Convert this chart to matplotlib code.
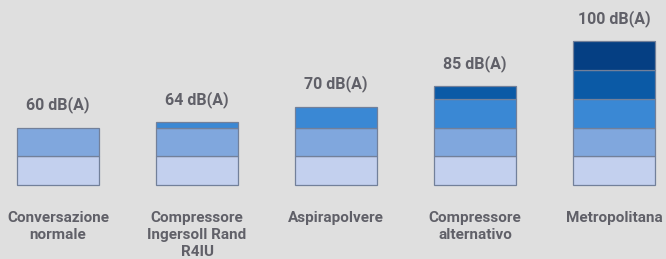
import matplotlib
matplotlib.use("Agg")
import matplotlib.pyplot as plt

fam = "Roboto"

# Data
categories = ["Conversazione\nnormale", "Compressore\nIngersoll Rand\nR4IU",
              "Aspirapolvere", "Compressore\nalternativo", "Metropolitana"]
db_labels = ["60 dB(A)", "64 dB(A)", "70 dB(A)", "85 dB(A)", "100 dB(A)"]
# stacked band heights per bar (in band units)
segments = [
    [1, 1],
    [1, 1, 0.18],
    [1, 1, 0.73],
    [1, 1, 1, 0.45],
    [1, 1, 1, 1, 1],
]
level_colors = ["#c3d0ee", "#80a7dd", "#3a88d4", "#0b5aa6", "#053f83"]

bg = "#dfdfdf"
txt = "#606068"

fig = plt.figure(figsize=(6.66, 2.59), dpi=100, facecolor=bg)
ax = fig.add_axes([0, 0, 1, 1], facecolor=bg)

x = list(range(len(categories)))
width = 0.583
for i, segs in enumerate(segments):
    bottom = 0
    for lvl, h in enumerate(segs):
        ax.bar(x[i], h, width=width, bottom=bottom, color=level_colors[lvl],
               edgecolor="#72809a", linewidth=0.9)
        bottom += h
    ax.annotate(db_labels[i], (x[i], bottom), xytext=(0, 16.5), textcoords="offset points",
                ha="center", va="center", fontsize=11.5, fontweight="bold",
                color=txt, family=fam)
    ax.annotate(categories[i], (x[i], 0), xytext=(0, -18.5), textcoords="offset points",
                ha="center", va="top", fontsize=11, fontweight="bold",
                color=txt, family=fam, linespacing=1.3)

ax.set_xlim(-58 / 139, (666 - 58) / 139)
ax.set_ylim(-74 / 28.7, (259 - 74) / 28.7)
ax.axis("off")

fig.savefig("out.png", dpi=100, facecolor=bg)
